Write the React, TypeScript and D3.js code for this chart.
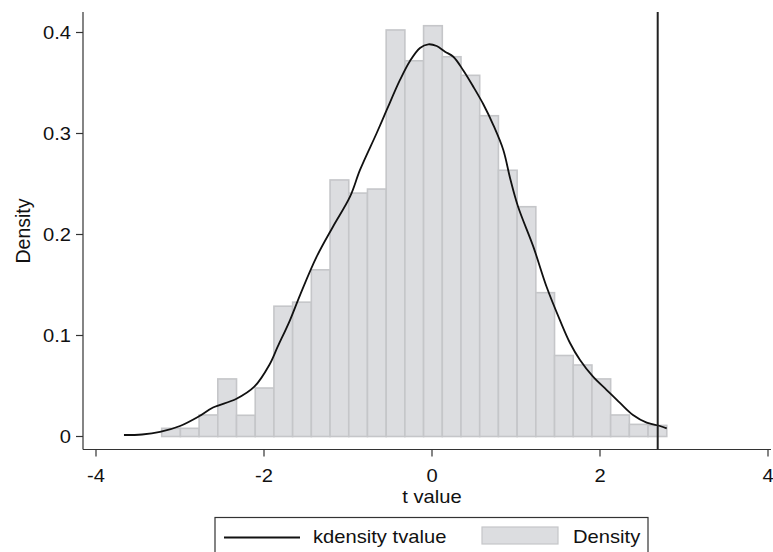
import React from "react";
import * as d3 from "d3";

const W = 773;
const H = 552;

// Histogram (Density) — 27 bins
const binStart = -3.218;
const binWidth = 0.2227;
const binDensity = [
  0.0081, 0.0081, 0.0213, 0.057, 0.021, 0.048, 0.129, 0.133, 0.165, 0.254,
  0.241, 0.245, 0.4025, 0.372, 0.4067, 0.376, 0.3576, 0.3176, 0.2636, 0.2275,
  0.1424, 0.0802, 0.0708, 0.057, 0.0213, 0.012, 0.011,
];

// Kernel density curve
const kdX = [
  -3.667, -3.452, -3.238, -3.0, -2.774, -2.607, -2.333, -2.115, -1.937, -1.837,
  -1.69, -1.571, -1.373, -1.179, -0.976, -0.857, -0.658, -0.539, -0.381, -0.262,
  -0.143, -0.044, 0.056, 0.155, 0.254, 0.373, 0.492, 0.611, 0.73, 0.849,
  0.929, 1.024, 1.206, 1.365, 1.524, 1.643, 1.762, 1.917, 2.08, 2.238,
  2.393, 2.556, 2.714, 2.794,
];
const kdY = [
  0.0015, 0.002, 0.0045, 0.0104, 0.02, 0.0287, 0.0371, 0.0493, 0.0708, 0.0889,
  0.1153, 0.14, 0.178, 0.2077, 0.2374, 0.2639, 0.3005, 0.3233, 0.353, 0.3718,
  0.3847, 0.3883, 0.3866, 0.381, 0.376, 0.3624, 0.3463, 0.329, 0.3084, 0.2837,
  0.256, 0.2277, 0.188, 0.148, 0.115, 0.0926, 0.0757, 0.0592, 0.046, 0.0332,
  0.0213, 0.0137, 0.0104, 0.0081,
];

const criticalT = 2.687;

const xTicks = [-4, -2, 0, 2, 4];
const yTicks = [0, 0.1, 0.2, 0.3, 0.4];

const FONT = "'Liberation Sans', Arial, sans-serif";
const FS = 18;
const SX = 1.12;

function T(props: {
  x: number;
  y: number;
  anchor?: "start" | "middle" | "end";
  dy?: string;
  children: React.ReactNode;
}) {
  return (
    <text
      transform={`translate(${props.x},${props.y}) scale(${SX},1)`}
      dy={props.dy}
      textAnchor={props.anchor || "start"}
      fontSize={FS}
      fill="#111"
    >
      {props.children}
    </text>
  );
}

export default function App() {
  const x = d3.scaleLinear().domain([-4, 4]).range([96, 768]);
  const y = d3.scaleLinear().domain([0, 0.4]).range([436.5, 32.5]);
  const axisLeft = 83;
  const axisBottom = 449.5;
  const plotTop = 12;

  const line = d3
    .line<number>()
    .x((_, i) => x(kdX[i]))
    .y((d) => y(d))
    .curve(d3.curveCatmullRom.alpha(0.5));

  const yFmt = (v: number) => (v === 0 ? "0" : d3.format(".1f")(v));

  return (
    <svg
      width={W}
      height={H}
      style={{ position: "absolute", left: 0, top: 0, background: "#fff" }}
      fontFamily={FONT}
    >
      <rect x={0} y={0} width={W} height={H} fill="#fff" />
      {/* bars */}
      {binDensity.map((d, i) => {
        const x0 = x(binStart + i * binWidth);
        const x1 = x(binStart + (i + 1) * binWidth);
        return (
          <rect
            key={i}
            x={x0}
            y={y(d)}
            width={x1 - x0}
            height={y(0) - y(d)}
            fill="#dcdde0"
            stroke="#c5c6c9"
            strokeWidth={1.6}
          />
        );
      })}
      {/* kdensity */}
      <path d={line(kdY) || ""} fill="none" stroke="#111" strokeWidth={1.8} />
      {/* vertical line */}
      <line
        x1={x(criticalT)}
        x2={x(criticalT)}
        y1={plotTop}
        y2={axisBottom}
        stroke="#222"
        strokeWidth={2}
      />
      {/* axes */}
      <line x1={axisLeft} x2={axisLeft} y1={plotTop} y2={axisBottom} stroke="#333" strokeWidth={1.2} />
      <line x1={axisLeft} x2={771} y1={axisBottom} y2={axisBottom} stroke="#333" strokeWidth={1.2} />
      {yTicks.map((t) => (
        <g key={t}>
          <line x1={axisLeft - 7} x2={axisLeft} y1={y(t)} y2={y(t)} stroke="#333" strokeWidth={1.2} />
          <T x={axisLeft - 12} y={y(t)} dy="0.36em" anchor="end">
            {yFmt(t)}
          </T>
        </g>
      ))}
      {xTicks.map((t) => (
        <g key={t}>
          <line x1={x(t)} x2={x(t)} y1={axisBottom} y2={axisBottom + 7} stroke="#333" strokeWidth={1.2} />
          <T x={x(t)} y={482} anchor="middle">
            {t < 0 ? `-${Math.abs(t)}` : `${t}`}
          </T>
        </g>
      ))}
      <T x={x(0)} y={503} anchor="middle">
        t value
      </T>
      <text
        transform={`translate(29.5,231) rotate(-90)`}
        textAnchor="middle"
        fontSize={19.5}
        fill="#111"
      >
        Density
      </text>
      {/* legend */}
      <rect x={215} y={517.5} width={433} height={44} fill="#fff" stroke="#333" strokeWidth={1.2} />
      <line x1={224} x2={300} y1={537.5} y2={537.5} stroke="#111" strokeWidth={1.8} />
      <T x={313} y={543}>
        kdensity tvalue
      </T>
      <rect x={482} y={527} width={76} height={17} fill="#dcdde0" stroke="#c5c6c9" strokeWidth={1.2} />
      <T x={573} y={543}>
        Density
      </T>
    </svg>
  );
}
